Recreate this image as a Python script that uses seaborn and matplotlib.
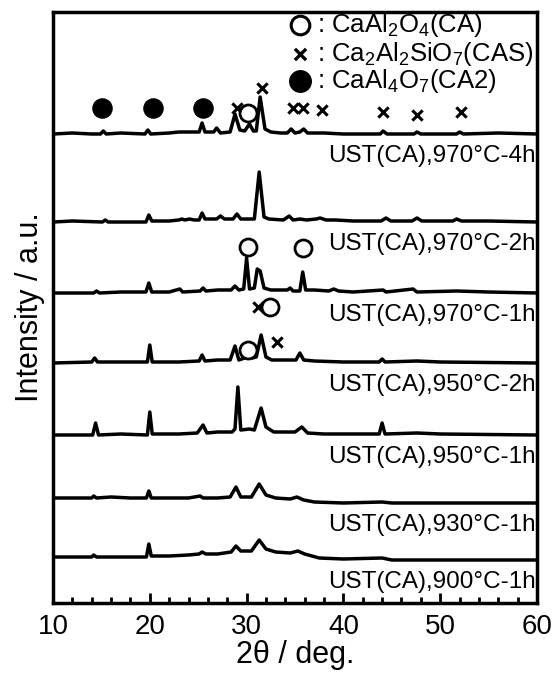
import matplotlib
matplotlib.use("Agg")
import matplotlib.pyplot as plt
import seaborn as sns
import pandas as pd
from matplotlib.ticker import MultipleLocator

sns.set_theme(style="white")
plt.rcParams['font.family'] = ['Liberation Sans', 'DejaVu Sans']
plt.rcParams['mathtext.fontset'] = 'custom'
plt.rcParams['mathtext.rm'] = 'Liberation Sans'
plt.rcParams['text.color'] = 'black'
plt.rcParams['axes.labelcolor'] = 'black'
plt.rcParams['xtick.color'] = 'black'
plt.rcParams['ytick.color'] = 'black'

# ---- data (2theta / intensity above each pattern's baseline, a.u.) ----
labels = ["UST(CA),970°C-4h", "UST(CA),970°C-2h", "UST(CA),970°C-1h",
          "UST(CA),950°C-2h", "UST(CA),950°C-1h", "UST(CA),930°C-1h",
          "UST(CA),900°C-1h"]
offsets = [469, 381, 310, 240, 168, 100, 43]

tt_1 = [10, 12, 14, 14.9, 15.2, 15.5, 17, 19.5, 19.8, 20.1, 22, 23, 24, 25.1, 25.4, 25.7, 26.6, 26.9, 27.3,
        28.3, 28.8, 29.3, 29.8, 30.3, 30.7, 31.0, 31.4, 31.9, 32.5, 33.5, 34.2, 34.6, 35.0, 35.5, 35.9,
        36.3, 38, 40, 43.8, 44.1, 44.5, 47.3, 47.6, 48, 51.7, 52.0, 52.4, 56, 60]
in_1 = [0, 1, 0, 0, 3, 0, 1, 0, 4, 0, 1, 2, 2, 2, 11, 2, 2, 6, 1,
        2, 20, 4, 3, 10, 3, 3, 37, 5, 2, 1, 1, 5, 1, 2, 5,
        1, 1, 0, 0, 3, 0, 0, 2, 0, 0, 2, 0, 1, 0]

tt_2 = [10, 12, 15.1, 15.4, 15.7, 19.6, 19.9, 20.2, 22, 23.0, 23.3, 23.6, 24.1, 24.6, 25.1, 25.4, 25.7,
        26.9, 27.3, 27.7, 28.6, 29.0, 29.4, 30.8, 31.3, 31.8, 32.3, 33.8, 34.4, 34.8, 35.5, 36.2, 37.2,
        37.6, 38.2, 39.2, 41, 43.9, 44.4, 44.9, 47.1, 47.6, 48.1, 51.3, 51.7, 52.2, 55, 60]
in_2 = [0, 1, 0, 2, 0, 0, 7, 1, 1, 2, 3, 2, 3, 2, 2, 9, 3,
        3, 6, 3, 3, 8, 3, 3, 50, 5, 3, 2, 6, 2, 3, 2, 3,
        4, 2, 2, 1, 1, 4, 1, 1, 4, 1, 1, 3, 1, 1, 0]

tt_3 = [10, 14.2, 14.5, 14.8, 17, 19.6, 19.9, 20.2, 22, 23.1, 23.4, 25.2, 25.5, 25.8, 27, 28.4, 28.8,
        29.2, 29.7, 30.0, 30.3, 30.8, 31.1, 31.4, 31.8, 32.5, 34.2, 34.5, 34.8, 35.5, 35.8, 36.1, 37,
        38.5, 39.0, 39.5, 41, 44.1, 44.4, 47.2, 47.6, 51.7, 55, 60]
in_3 = [0, 0, 2, 0, 1, 1, 10, 1, 1, 4, 1, 2, 5, 2, 3, 3, 7,
        3, 4, 35, 4, 5, 24, 22, 5, 3, 3, 5, 2, 2, 21, 3, 3,
        2, 4, 2, 1, 3, 1, 4, 1, 2, 1, 0]

tt_4 = [10, 14.0, 14.3, 14.6, 17, 19.75, 20.0, 20.25, 23, 25.1, 25.4, 25.7, 27, 28.3, 28.8, 29.2, 29.8,
        30.2, 30.6, 31.0, 31.5, 32.0, 32.6, 33.5, 35.1, 35.5, 35.9, 37, 40, 43.7, 44.0, 44.3, 47.6, 50, 60]
in_4 = [0, 1, 5, 1, 1, 1, 18, 1, 1, 2, 8, 2, 3, 3, 17, 3, 5,
        9, 5, 6, 28, 6, 3, 3, 3, 10, 3, 2, 1, 1, 4, 1, 2, 1, 0]

tt_5 = [10, 14.1, 14.4, 14.7, 17, 19.75, 20.0, 20.25, 23, 24.9, 25.5, 25.9, 27, 28.5, 28.8, 29.1, 29.4,
        30.3, 30.8, 31.5, 32.0, 32.8, 34.5, 35.0, 35.7, 36.3, 38, 43.7, 44.0, 44.3, 47.6, 50, 60]
in_5 = [0, 0, 12, 0, 1, 0, 23, 1, 1, 2, 10, 2, 3, 3, 6, 48, 5,
        6, 5, 27, 8, 3, 3, 3, 8, 2, 1, 1, 12, 1, 2, 1, 0]

tt_6 = [10, 14.0, 14.2, 14.5, 16, 18, 19.65, 19.9, 20.15, 22, 24, 25.2, 25.5, 27, 28.3, 28.9, 29.4,
        30.5, 31.3, 32.0, 33, 34.5, 35.2, 35.9, 37, 40, 44.0, 45, 60]
in_6 = [5, 5, 7, 5, 6, 5, 5, 12, 5, 5, 5, 7, 5, 5, 6, 16, 6,
        6, 19, 8, 5, 4, 6, 3, 1, 0, 1, 0, 0]

tt_7 = [10, 14, 14.2, 14.5, 17, 19.65, 19.9, 20.15, 22, 24, 25.1, 25.4, 25.8, 27, 28.4, 28.9, 29.4,
        30.5, 31.3, 32.0, 33, 34.5, 35.3, 36, 37.5, 40, 44.0, 45, 60]
in_7 = [3, 3, 5, 3, 3, 3, 16, 4, 4, 5, 6, 8, 6, 6, 8, 14, 9,
        9, 20, 11, 8, 7, 9, 6, 2, 1, 2, 0, 0]

two_theta = [tt_1, tt_2, tt_3, tt_4, tt_5, tt_6, tt_7]
intensity = [in_1, in_2, in_3, in_4, in_5, in_6, in_7]

# phase identification marks: pattern index, 2theta, height above that pattern's baseline
ca2_pat, ca2_tt, ca2_h = [0, 0, 0], [15.1, 20.3, 25.5], [26, 26, 26]
cas_pat = [0, 0, 0, 0, 0, 0, 0, 0, 3, 3]
cas_tt = [29.0, 31.6, 34.8, 35.8, 37.8, 44.1, 47.6, 52.2, 31.2, 33.1]
cas_h = [26, 46, 26, 26, 24, 22, 19, 22, 56, 21]
ca_pat = [0, 2, 2, 3, 3]
ca_tt = [30.1, 30.1, 35.8, 32.4, 30.1]
ca_h = [21, 46, 45, 56, 13]

legend_items = [("o", r": CaAl$\mathregular{_2}$O$\mathregular{_4}$(CA)"),
                ("x", r": Ca$\mathregular{_2}$Al$\mathregular{_2}$SiO$\mathregular{_7}$(CAS)"),
                ("filled", r": CaAl$\mathregular{_4}$O$\mathregular{_7}$(CA2)")]

# ---- figure ----
fig = plt.figure(figsize=(5.54, 6.74), dpi=100)
ax = fig.add_axes([53 / 554, 71 / 674, 484 / 554, 591 / 674])

frames = []
for i, lab in enumerate(labels):
    df = pd.DataFrame({"tt": two_theta[i],
                       "I": [v + offsets[i] for v in intensity[i]],
                       "pattern": lab})
    frames.append(df)
data = pd.concat(frames, ignore_index=True)
sns.lineplot(data=data, x="tt", y="I", units="pattern", estimator=None, sort=False,
             color="black", linewidth=2.5, ax=ax, legend=False)

# labels below each pattern
for i, lab in enumerate(labels):
    ax.text(59.85, offsets[i] - 22, lab, ha="right", va="center", fontsize=17.5, color="black")

# phase markers
ax.scatter(ca2_tt, [offsets[p] + h for p, h in zip(ca2_pat, ca2_h)], s=190, c="black",
           marker="o", zorder=5)
ax.scatter(cas_tt, [offsets[p] + h for p, h in zip(cas_pat, cas_h)], s=55, c="black",
           marker="x", linewidths=2.2, zorder=5)
ax.scatter(ca_tt, [offsets[p] + h for p, h in zip(ca_pat, ca_h)], s=150, facecolors="white",
           edgecolors="black", marker="o", linewidths=2.0, zorder=5)

# legend box content
leg_y = [578, 549, 522]
for (kind, txt), y in zip(legend_items, leg_y):
    if kind == "o":
        ax.scatter([35.5], [y], s=180, facecolors="white", edgecolors="black", linewidths=2.2, zorder=5)
    elif kind == "x":
        ax.scatter([35.5], [y], s=65, c="black", marker="x", linewidths=2.4, zorder=5)
    else:
        ax.scatter([35.5], [y], s=240, c="black", marker="o", zorder=5)
    ax.text(37.3, y, txt, ha="left", va="center", fontsize=18.5, color="black")

ax.set_xlim(10, 60)
ax.set_ylim(0, 591)
ax.xaxis.set_major_locator(MultipleLocator(10))
ax.xaxis.set_minor_locator(MultipleLocator(2))
ax.tick_params(axis="x", which="major", direction="in", length=7, width=2, labelsize=20,
               bottom=True, top=False, pad=8)
ax.tick_params(axis="x", which="minor", direction="in", length=4, width=2, bottom=True, top=False)
ax.set_yticks([])
for s in ax.spines.values():
    s.set_linewidth(2.5)
    s.set_color("black")
ax.set_xlabel("2θ / deg.", fontsize=22, labelpad=0)
ax.set_ylabel("Intensity / a.u.", fontsize=22, labelpad=6)

fig.savefig("out.png", dpi=100)
